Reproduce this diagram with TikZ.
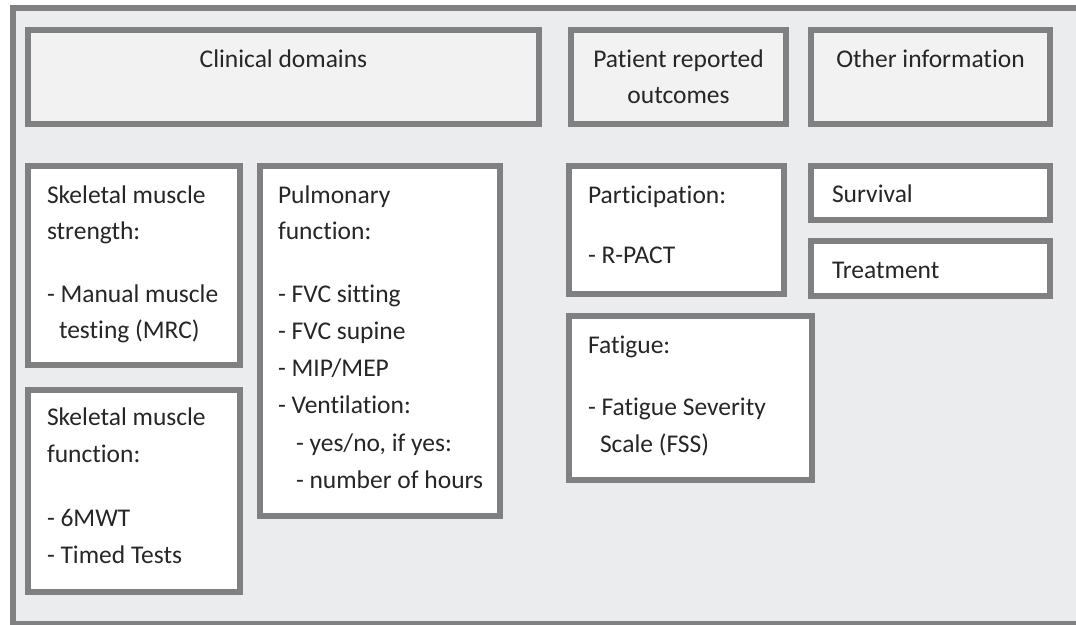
\documentclass[tikz,border=0pt]{standalone}
\usepackage{fontspec}
\setmainfont{Carlito}[Ligatures={NoCommon}]
\definecolor{bordergray}{HTML}{808082}
\definecolor{outerfill}{HTML}{EBECEE}
\definecolor{headfill}{HTML}{F2F2F2}
\definecolor{textcol}{HTML}{262626}
\begin{document}
\begin{tikzpicture}[x=1pt,y=-1pt,
  box/.style={draw=bordergray, line width=6pt, fill=white, rectangle, inner sep=0pt, outer sep=0pt, anchor=north west},
  headbox/.style={box, fill=headfill},
  txt/.style={anchor=base west, inner sep=0pt, outer sep=0pt, font=\fontsize{25.5}{30}\selectfont, text=textcol},
  ctxt/.style={txt, anchor=base}]
\useasboundingbox (0,0) rectangle (1076,624);
\fill[white] (0,0) rectangle (1076,624);
\begin{scope}
\clip (0,0) rectangle (1076,624);
\draw[draw=bordergray, line width=6pt, fill=outerfill] (13,8) rectangle (1090,623.5);
\end{scope}
% header boxes
\node[headbox, minimum width=511pt, minimum height=94pt] (clin) at (28,30) {};
\node[headbox, minimum width=215pt, minimum height=94pt] (pro) at (571,30) {};
\node[headbox, minimum width=239pt, minimum height=94pt] (oth) at (811,30) {};
% content boxes
\node[box, minimum width=212pt, minimum height=199pt] (sms) at (28,166) {};
\node[box, minimum width=240pt, minimum height=350pt] (pulm) at (260,166) {};
\node[box, minimum width=212pt, minimum height=202pt] (smf) at (28,390) {};
\node[box, minimum width=215pt, minimum height=128pt] (part) at (569,166) {};
\node[box, minimum width=239pt, minimum height=54pt] (surv) at (811,166) {};
\node[box, minimum width=239pt, minimum height=55pt] (treat) at (811,241) {};
\node[box, minimum width=243pt, minimum height=164pt] (fat) at (569,316) {};
% header texts
\node[ctxt] (clinT) at (283.5,67) {Clinical domains};
\node[ctxt] (proT1) at (678.5,67) {Patient reported};
\node[ctxt] (proT2) at (678.5,103) {outcomes};
\node[ctxt] (othT) at (930.5,67) {Other information};
% skeletal muscle strength
\node[txt] (smsA) at (47,203) {Skeletal muscle};
\node[txt] (smsB) at (47,239) {strength:};
\node[txt] (smsC) at (47,302) {- Manual muscle};
\node[txt] (smsD) at (59,338.5) {testing (MRC)};
% pulmonary
\node[txt] (pulA) at (278,203) {Pulmonary};
\node[txt] (pulB) at (278,239) {function:};
\node[txt] (pulC) at (278,302.5) {- FVC sitting};
\node[txt] (pulD) at (278,339) {- FVC supine};
\node[txt] (pulE) at (278,376) {- MIP/MEP};
\node[txt] (pulF) at (278,413.5) {- Ventilation:};
\node[txt] (pulG) at (296,451) {- yes/no, if yes:};
\node[txt] (pulH) at (296,488.5) {- number of hours};
% skeletal muscle function
\node[txt] (smfA) at (47,425) {Skeletal muscle};
\node[txt] (smfB) at (47,462) {function:};
\node[txt] (smfC) at (47,526) {- 6MWT};
\node[txt] (smfD) at (47,563) {- Timed Tests};
% participation
\node[txt] (parA) at (588,203) {Participation:};
\node[txt] (parB) at (588,263) {- R-PACT};
% other
\node[txt] (survT) at (832,202) {Survival};
\node[txt] (treatT) at (832,278) {Treatment};
% fatigue
\node[txt] (fatA) at (588,353) {Fatigue:};
\node[txt] (fatB) at (588,415) {- Fatigue Severity};
\node[txt] (fatC) at (600,452) {Scale (FSS)};
\end{tikzpicture}
\end{document}
